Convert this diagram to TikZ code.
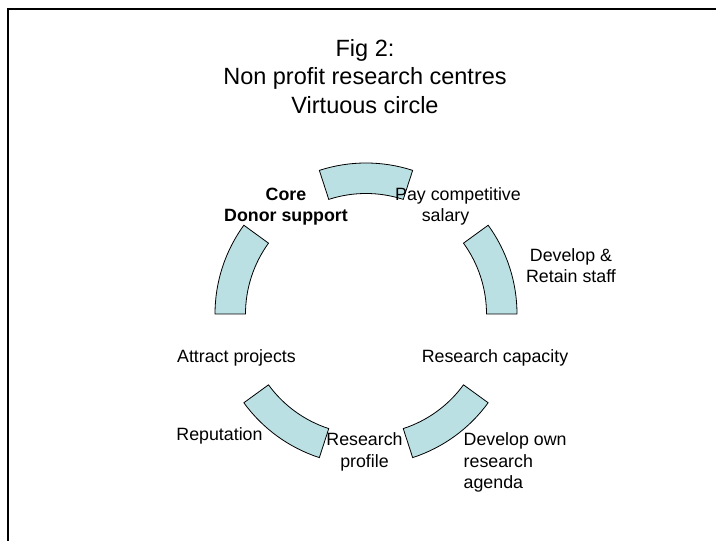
\documentclass[tikz,border=0pt]{standalone}
\usepackage{fontspec}
\setmainfont{Liberation Sans}
\definecolor{segfill}{RGB}{187,224,227}
\begin{document}
\begin{tikzpicture}[x=1pt,y=1pt,
  seg/.style={fill=segfill,draw=black,line width=0.8pt,line join=miter},
  lbl/.style={inner sep=0pt,anchor=base,align=center,font=\fontsize{17.8}{21.6}\selectfont},
  ttl/.style={inner sep=0pt,anchor=base,align=center,font=\fontsize{23.5}{28.5}\selectfont},
  frame/.style={line width=2.5pt,line join=miter}]
\useasboundingbox (0,0) rectangle (716,541);
\coordinate (fbl) at (8,0);
\coordinate (ftl) at (8,532);
\coordinate (ftr) at (716,532);
\draw[frame] (fbl) -- (ftl) -- (ftr);
\coordinate (c) at (366,227);
\foreach \a in {0,72,144,216,288} {
  \pgfmathsetmacro\b{\a+36}
  \draw[seg] ([shift={(c)}]\a:151) arc[start angle=\a, end angle=\b, radius=151pt]
    -- ([shift={(c)}]\b:120.5) arc[start angle=\b, end angle=\a, radius=120.5pt] -- cycle;
}
\node[ttl] (title) at (365,427.5) {Fig 2:\\Non profit research centres\\Virtuous circle};
\node[lbl] (core) at (286,319.3) {\textbf{Core}\\\textbf{Donor support}};
\node[lbl] (pay) at (458,319.3) {Pay competitive\\salary\hspace*{25pt}};
\node[lbl] (dev) at (571,258.2) {Develop \&\\Retain staff};
\node[lbl] (attract) at (236.5,178.2) {Attract projects};
\node[lbl] (capacity) at (495,178.2) {Research capacity};
\node[lbl] (reputation) at (219.5,100) {Reputation};
\node[lbl] (profile) at (364.5,73.5) {Research\\profile};
\node[lbl,anchor=base west,align=left] (agenda) at (463.5,52) {Develop own\\research\\agenda};
\end{tikzpicture}
\end{document}
